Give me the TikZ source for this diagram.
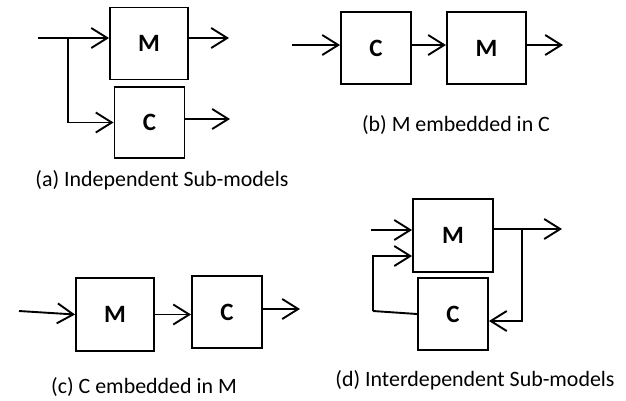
\documentclass[tikz,border=0pt]{standalone}
\usepackage{fontspec}
\setmainfont{Carlito}
\usetikzlibrary{positioning,arrows.meta}

\begin{document}
\begin{tikzpicture}[
        x=1bp, y=-1bp,
        node distance=34bp,
        box/.style={rectangle, draw, line width=1.9bp, minimum width=78bp, minimum height=72bp, font=\fontsize{25}{29}\selectfont\bfseries},
        sbox/.style={box, minimum width=70bp},
        arr/.style={-{Straight Barb[length=16bp, width=20bp]}, line width=1.9bp},
        lnk/.style={line width=1.9bp},
        lbl/.style={font=\fontsize{22}{26}\selectfont},
    ]
    \useasboundingbox (0,0) rectangle (626,400);

    % ----- (a) separate models -----
    \node[box] (mA) at (149,43.5) {M};
    \node[sbox, minimum height=71bp] (cA) at (149.5,122.5) {C};
    \coordinate (inA) at (38,38);
    \coordinate (splitA) at (68,38);
    \coordinate (outMA) at (229,38);
    \coordinate (outCA) at (230,119);

    \draw[arr] (inA) -- (inA -| mA.west);
    \draw[arr] (splitA) |- (cA.west);
    \draw[arr] (outMA -| mA.east) -- (outMA);
    \draw[arr] (outCA -| cA.east) -- (outCA);

    \node[lbl] (capA) at (162,180) {(a) Independent Sub-models};

    % ----- (b) C then M -----
    \node[sbox] (cB) at (376,48) {C};
    \node[box, right=34bp of cB, minimum width=79bp] (mB) {M};
    \coordinate (inB) at (292,45);
    \coordinate (outB) at (563,45);

    \draw[arr] (inB) -- (inB -| cB.west);
    \draw[arr] (inB -| cB.east) -- (inB -| mB.west);
    \draw[arr] (outB -| mB.east) -- (outB);

    \node[lbl] (capB) at (456,125) {(b) M embedded in C};

    % ----- (c) M then C -----
    \node[box, minimum height=73bp] (mC) at (115,314.5) {M};
    \node[sbox] (cC) at (227,312) {C};
    \coordinate (inC) at (19,311);
    \coordinate (outC) at (300,309);

    \draw[arr] (inC) -- (mC.west);
    \draw[arr] (mC.east) -- (mC.east -| cC.west);
    \draw[arr] (outC -| cC.east) -- (outC);

    \node[lbl] (capC) at (144,387) {(c) C embedded in M};

    % ----- (d) feedback loop -----
    \node[box, minimum width=80bp, minimum height=73bp] (mD) at (453,235.5) {M};
    \node[sbox] (cD) at (453,314) {C};
    \coordinate (inD) at (371,230);
    \coordinate (outD) at (562,229);
    \coordinate (splitD) at (522,229);
    \coordinate (backD) at (373,311);
    \coordinate (fbD) at (373,256);

    \draw[arr] (inD) -- (inD -| mD.west);
    \draw[arr] (outD -| mD.east) -- (outD);
    \draw[arr] (splitD) |- ([yshift=-7bp]cD.east);
    \draw[lnk] (cD.west) -- (backD);
    \draw[arr] (backD) -- (fbD) -- (fbD -| mD.west);

    \node[lbl] (capD) at (475,380) {(d) Interdependent Sub-models};

\end{tikzpicture}
\end{document}
